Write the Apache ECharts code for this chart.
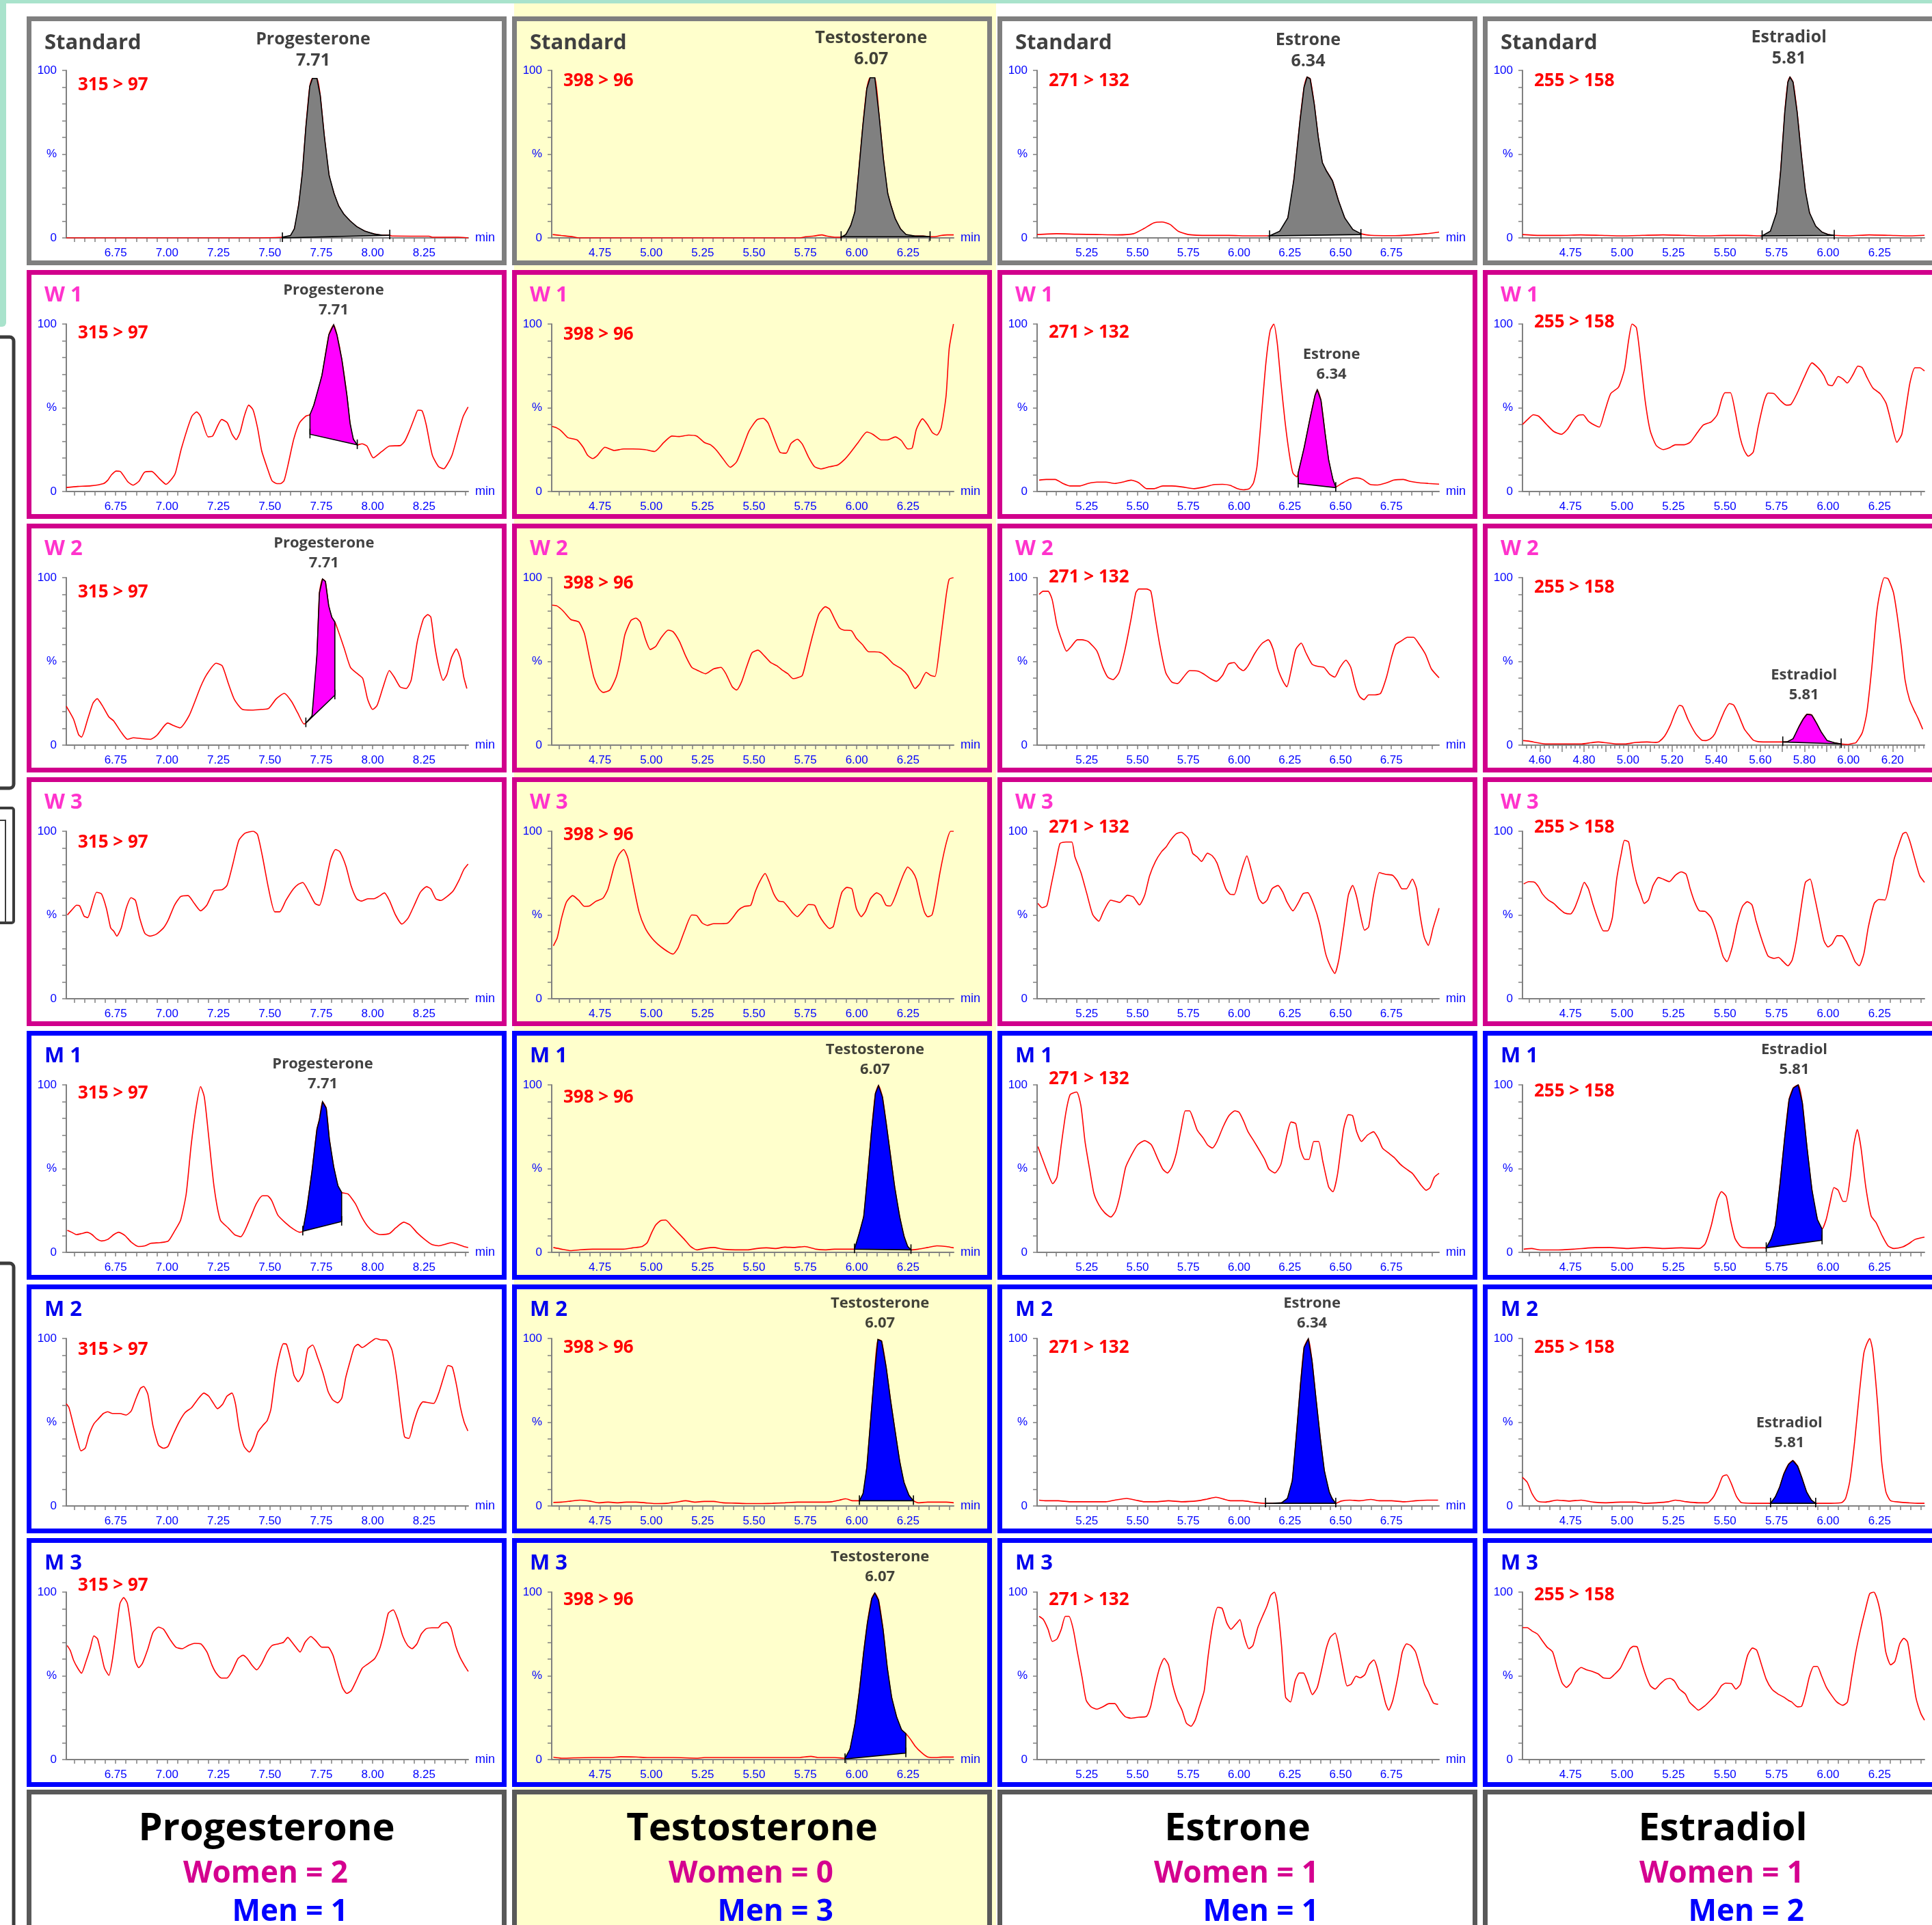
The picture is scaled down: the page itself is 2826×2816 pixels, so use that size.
<!DOCTYPE html>
<html lang="en">
<head>
<meta charset="UTF-8">
<title>Steroid MRM chromatograms</title>
<script src="https://cdn.jsdelivr.net/npm/echarts@6.0.0/dist/echarts.min.js"></script>
<style>
  html, body { margin: 0; padding: 0; background: #fff; overflow: hidden; }
  #main { width: 2826px; height: 2816px; }
</style>
</head>
<body>
<div id="main"></div>
<script>
// ---- data (x = min, y = % of max) ----
const compounds = ['Progesterone', 'Testosterone', 'Estrone', 'Estradiol'];
const retentionTimes = ['7.71', '6.07', '6.34', '5.81'];
const transitions = ['315 > 97', '398 > 96', '271 > 132', '255 > 158'];
const rowLabels = ['Standard', 'W 1', 'W 2', 'W 3', 'M 1', 'M 2', 'M 3'];
const women = [2, 0, 1, 1];
const men = [1, 3, 1, 2];

const xRange = [[6.51, 8.465], [4.515, 6.472], [5.005, 6.985], [4.517, 6.468]];
const xLabels = [
  [6.75, 7.00, 7.25, 7.50, 7.75, 8.00, 8.25],
  [4.75, 5.00, 5.25, 5.50, 5.75, 6.00, 6.25],
  [5.25, 5.50, 5.75, 6.00, 6.25, 6.50, 6.75],
  [4.75, 5.00, 5.25, 5.50, 5.75, 6.00, 6.25]
];
// W 2 estradiol trace was exported with its own time window
const xRangeW2E2 = [4.521, 6.345];
const xLabelsW2E2 = [4.60, 4.80, 5.00, 5.20, 5.40, 5.60, 5.80, 6.00, 6.20];
const yLabels = [0, 50, 100];

const progStd = [[6.51,0],[7.396,0],[7.561,0.4],[7.6,1.4],[7.619,5.4],[7.64,19.7],[7.658,38.8],[7.675,66],[7.694,90.5],[7.707,95.2],[7.729,95.2],[7.745,85],[7.765,60.5],[7.788,37.4],[7.812,26.5],[7.835,19],[7.859,14.3],[7.89,10.2],[7.922,6.8],[7.961,4.1],[8.008,2.3],[8.047,1.6],[8.083,1.6],[8.094,1.1],[8.274,1],[8.29,0.4],[8.415,0.4],[8.465,0]];
const testoStd = [[4.52,2],[4.562,1.4],[4.617,0.7],[4.648,0],[5.72,0],[5.752,0.7],[5.791,1.1],[5.83,1.8],[5.853,1.1],[5.892,0.4],[5.924,0.4],[5.947,2],[5.971,7.5],[5.991,15.6],[6.01,40.1],[6.03,67.3],[6.049,89.1],[6.065,95.6],[6.088,95.6],[6.108,74.1],[6.13,46.9],[6.151,26.5],[6.166,19.7],[6.187,11.6],[6.213,5.4],[6.24,2],[6.284,1.1],[6.323,1.1],[6.357,0.7],[6.378,0.7],[6.409,1.4],[6.44,1.8],[6.472,1.8]];
const estroneStd = [[5.005,2],[5.1,2.5],[5.2,2.2],[5.3,2],[5.4,1.8],[5.48,2.5],[5.53,5.5],[5.58,9],[5.62,9.5],[5.66,8],[5.7,4],[5.75,2],[5.85,1.5],[5.95,1.5],[6.05,1.2],[6.15,1.2],[6.2,4],[6.24,12],[6.27,35],[6.3,70],[6.32,90],[6.335,96],[6.35,95],[6.37,80],[6.39,60],[6.41,45],[6.43,40],[6.46,34],[6.49,22],[6.52,12],[6.56,5],[6.6,2.5],[6.65,1.5],[6.75,1.3],[6.85,1.8],[6.92,2.5],[6.985,3.5]];
const estradiolStd = [[4.517,2],[4.6,1.5],[4.7,1.5],[4.8,1.8],[4.9,1.5],[5.0,1.2],[5.1,1.5],[5.2,1.8],[5.3,1.5],[5.4,1.2],[5.5,1.5],[5.6,1.5],[5.68,1.2],[5.72,4],[5.75,15],[5.77,40],[5.79,75],[5.805,93],[5.815,96],[5.83,93],[5.85,75],[5.87,50],[5.89,28],[5.91,15],[5.94,7],[5.97,3.5],[6.0,2],[6.03,1.5],[6.1,1.2],[6.2,1.8],[6.3,1.5],[6.4,1.2],[6.468,1.5]];

const progW1 = [[6.51,2.4],[6.565,3],[6.63,3.4],[6.69,4.7],[6.712,6.8],[6.73,10],[6.753,12.2],[6.772,12],[6.81,5.7],[6.835,3.8],[6.863,6.1],[6.89,11.5],[6.925,12],[6.964,7.5],[6.995,4.3],[7.018,6.8],[7.04,10.9],[7.07,25.8],[7.12,44.8],[7.144,47.5],[7.163,44.8],[7.2,32.6],[7.222,33.2],[7.266,43],[7.293,41],[7.316,34.2],[7.336,31],[7.355,35.3],[7.375,44.8],[7.397,51.6],[7.418,48.8],[7.44,38],[7.46,24.4],[7.487,14.2],[7.51,6.5],[7.534,4.7],[7.55,4.7],[7.569,6.5],[7.589,16.3],[7.616,31.2],[7.644,41],[7.675,45],[7.695,45.9],[7.714,51.6],[7.753,69.2],[7.787,93.6],[7.81,99.5],[7.826,93.6],[7.85,78.7],[7.875,57],[7.89,40.7],[7.906,31.2],[7.925,27.8],[7.948,28.5],[7.972,27.1],[8.003,20.1],[8.042,23.7],[8.081,27.1],[8.136,27.5],[8.156,30.1],[8.18,36.6],[8.206,44.8],[8.22,48.6],[8.24,48.2],[8.26,40],[8.29,21.7],[8.32,14.9],[8.345,13.6],[8.36,15.6],[8.386,21.7],[8.417,35.3],[8.44,44.8],[8.464,50.5]];
const testoW1 = [[4.517,38.9],[4.539,38],[4.563,36],[4.593,32.2],[4.638,30.8],[4.668,26.4],[4.69,21.6],[4.714,19.7],[4.738,21.6],[4.774,26.4],[4.82,24.5],[4.865,25.4],[4.91,25.4],[4.97,25],[5.016,23.9],[5.061,29.3],[5.1,33.1],[5.137,32.8],[5.182,33.7],[5.221,33.1],[5.258,29.3],[5.288,27.9],[5.318,24.5],[5.348,19.7],[5.384,14.5],[5.415,17.7],[5.445,26.4],[5.475,36],[5.514,42.8],[5.545,43.7],[5.569,40.8],[5.596,32.2],[5.626,23.5],[5.656,22.9],[5.68,28.7],[5.711,31.2],[5.735,28.3],[5.765,20.6],[5.795,14.8],[5.826,13.5],[5.868,14.8],[5.907,15.8],[5.937,18.7],[5.967,22.9],[6.007,29.3],[6.049,35.5],[6.079,34.1],[6.119,30.8],[6.149,30.8],[6.188,32.6],[6.218,30.3],[6.248,25.4],[6.27,26],[6.29,37],[6.32,43.4],[6.345,39.9],[6.369,35.1],[6.39,33.7],[6.411,38],[6.435,57.2],[6.45,85.2],[6.471,100]];
const estroneW1 = [[5.015,6.8],[5.05,7.2],[5.094,7.2],[5.132,4.8],[5.168,3.3],[5.212,3.3],[5.256,4.8],[5.3,5.6],[5.344,5.6],[5.388,4.8],[5.426,5.6],[5.468,6.8],[5.506,5.2],[5.544,1.7],[5.579,1.7],[5.624,3.3],[5.668,3.3],[5.72,2.7],[5.779,1.7],[5.829,2.7],[5.874,4.1],[5.918,4.3],[5.956,3.7],[5.991,1.7],[6.021,1],[6.05,1.7],[6.071,5.2],[6.088,14.9],[6.109,43.9],[6.132,76.8],[6.153,96.1],[6.171,100],[6.188,88.4],[6.206,65.2],[6.226,42],[6.247,22.6],[6.265,11],[6.285,8.7],[6.291,11],[6.321,26.5],[6.35,43.9],[6.374,57.4],[6.385,60.7],[6.403,54.5],[6.424,34.2],[6.441,18.8],[6.462,7.2],[6.476,2.7],[6.506,4.8],[6.544,7.2],[6.579,8.1],[6.609,7.2],[6.644,4.3],[6.682,3.9],[6.726,5.2],[6.762,6.8],[6.809,7.2],[6.844,6],[6.888,5.2],[6.932,4.8],[6.985,4.4]];
const estradiolW1 = [[4.517,40],[4.541,42.9],[4.57,45.8],[4.596,44.9],[4.634,40],[4.669,35.8],[4.706,34.2],[4.735,37.1],[4.765,42.9],[4.788,45.5],[4.811,45.8],[4.837,42],[4.866,39.7],[4.89,38.5],[4.916,47.8],[4.945,58.4],[4.983,62.3],[5.012,72.9],[5.032,90.3],[5.049,100],[5.07,97.7],[5.09,78.7],[5.113,53.6],[5.137,36.2],[5.166,27.5],[5.2,25],[5.23,26.1],[5.259,27.9],[5.302,27.9],[5.331,29.4],[5.36,34.2],[5.395,39.7],[5.433,41.6],[5.462,45.8],[5.485,55.5],[5.5,59],[5.526,59],[5.549,47.8],[5.573,32.3],[5.593,24.6],[5.613,21.1],[5.637,23.6],[5.66,38.1],[5.689,53.6],[5.709,58.8],[5.738,58.4],[5.767,54.5],[5.797,51.6],[5.82,52],[5.849,58.4],[5.884,68.1],[5.922,76.8],[5.956,73.3],[5.98,69.1],[6.0,63.8],[6.02,63.2],[6.049,68.7],[6.073,67.1],[6.093,64.8],[6.122,70],[6.145,74.9],[6.166,73.9],[6.189,68.1],[6.218,61.7],[6.253,58.4],[6.282,52.6],[6.305,42],[6.334,29.4],[6.358,34.2],[6.378,49.7],[6.398,65.2],[6.422,73.9],[6.445,73.9],[6.468,72]];

const progW2 = [[6.51,23.2],[6.545,15.5],[6.57,6.2],[6.584,4.8],[6.614,15.5],[6.64,25.1],[6.66,27.7],[6.687,23.2],[6.717,16.8],[6.74,14.5],[6.777,7.7],[6.807,3.5],[6.837,4.4],[6.876,3.9],[6.92,3.5],[6.95,5.8],[7.003,13.2],[7.033,11.6],[7.063,10.3],[7.108,17.8],[7.163,34.8],[7.193,42.2],[7.238,48.9],[7.268,47.4],[7.298,36.8],[7.328,27.1],[7.367,21.3],[7.41,20.9],[7.458,21.3],[7.494,21.9],[7.53,27.5],[7.57,30.9],[7.605,26.1],[7.635,19.3],[7.666,12.6],[7.675,13.2],[7.705,17.4],[7.729,54],[7.741,90.9],[7.756,99.2],[7.77,97.7],[7.786,83.2],[7.801,76.4],[7.816,73.5],[7.831,68.7],[7.861,58],[7.892,46.4],[7.93,42.2],[7.952,39.7],[7.976,27.1],[8.0,21.3],[8.021,23.6],[8.051,34.8],[8.081,44.5],[8.105,40.6],[8.133,34.8],[8.163,33.8],[8.187,38.7],[8.217,61.9],[8.247,75.4],[8.268,77.9],[8.283,76.4],[8.301,60],[8.322,46.4],[8.343,38.7],[8.361,42.2],[8.383,52.2],[8.407,57.4],[8.428,51.3],[8.443,40.6],[8.458,33.8]];
const testoW2 = [[4.517,83.6],[4.539,83.2],[4.569,80.3],[4.608,75],[4.647,73.5],[4.674,66.7],[4.699,52.2],[4.72,40.6],[4.744,33.8],[4.765,31.5],[4.798,32.9],[4.829,40.6],[4.85,51.3],[4.871,65.8],[4.901,74.5],[4.925,75.8],[4.946,73.5],[4.97,63.8],[4.995,57.1],[5.022,59],[5.046,63.8],[5.082,68.7],[5.106,67.7],[5.137,61.9],[5.167,53.2],[5.197,46.4],[5.227,44.5],[5.264,42.6],[5.303,45.5],[5.339,46.4],[5.363,42.6],[5.394,34.8],[5.415,32.9],[5.439,37.7],[5.463,46.4],[5.49,55.1],[5.52,56.7],[5.551,53.2],[5.581,49.3],[5.611,47.4],[5.641,44.5],[5.665,42.6],[5.69,39.7],[5.711,40.2],[5.735,41.6],[5.756,51.3],[5.786,65.8],[5.816,78.3],[5.847,82.6],[5.868,81.2],[5.892,75.4],[5.916,70],[5.937,68.7],[5.974,68.3],[5.998,63.8],[6.028,60],[6.058,55.7],[6.088,55.7],[6.119,55.1],[6.149,52.2],[6.179,48.4],[6.218,45.5],[6.248,41.6],[6.284,33.8],[6.308,36.8],[6.338,43.5],[6.36,41.6],[6.381,41],[6.405,60],[6.435,89],[6.45,99],[6.471,100]];
const estroneW2 = [[5.015,90],[5.035,91.9],[5.059,91.9],[5.079,87],[5.103,71.6],[5.129,61.9],[5.15,56.1],[5.174,59],[5.203,62.9],[5.226,62.9],[5.256,61.9],[5.3,56.1],[5.329,46.4],[5.353,40.6],[5.379,39.1],[5.409,43.5],[5.438,57.1],[5.468,75.4],[5.491,90.9],[5.506,93.2],[5.544,93.2],[5.565,91.9],[5.585,77.4],[5.609,60],[5.638,43.5],[5.668,37.7],[5.697,36.8],[5.726,40.6],[5.756,44.5],[5.8,44.1],[5.829,42.2],[5.859,39.7],[5.888,38.1],[5.918,41.6],[5.947,48.4],[5.976,49.3],[5.997,46.4],[6.021,44.5],[6.044,47.4],[6.079,55.1],[6.115,60.9],[6.144,62.9],[6.168,57.1],[6.191,45.5],[6.218,37.7],[6.235,34.8],[6.256,44.5],[6.279,57.1],[6.306,60.9],[6.329,55.1],[6.359,48.4],[6.388,47],[6.418,46.4],[6.447,42.2],[6.471,40.6],[6.497,46.4],[6.526,50.7],[6.55,46.4],[6.574,34.8],[6.594,29],[6.615,27.1],[6.638,30],[6.668,30],[6.697,30.9],[6.726,40.6],[6.75,52.2],[6.771,60],[6.8,62.3],[6.829,64.4],[6.859,64.4],[6.888,60],[6.918,54.2],[6.947,45.5],[6.985,40.2]];
const estradiolW2 = [[4.524,2.7],[4.55,2.4],[4.59,1.4],[4.63,0.7],[4.684,0.7],[4.79,0.7],[4.83,1.4],[4.865,1.9],[4.9,1.4],[4.95,0.7],[4.99,0.7],[5.03,1.5],[5.086,1.9],[5.126,1.6],[5.14,2],[5.166,5.4],[5.193,12.2],[5.213,19],[5.233,23.8],[5.247,23.1],[5.273,15],[5.307,6.8],[5.334,3],[5.354,2.7],[5.374,3.8],[5.394,6.8],[5.42,15],[5.44,21.1],[5.46,24.8],[5.48,23.8],[5.5,18.4],[5.528,9.5],[5.548,6.1],[5.568,3],[5.595,2],[5.648,1.9],[5.702,1.9],[5.722,2],[5.749,3.8],[5.775,10.9],[5.795,15.6],[5.812,18.4],[5.833,18],[5.856,12.9],[5.876,7.9],[5.903,2.7],[5.936,1.4],[5.967,0.7],[5.996,0.4],[6.023,1.1],[6.034,1.4],[6.063,7.5],[6.083,19],[6.106,46.3],[6.127,77.6],[6.143,91.2],[6.163,100],[6.18,99.3],[6.204,91.2],[6.221,77.6],[6.24,58.5],[6.257,38.8],[6.277,27.2],[6.297,21.1],[6.315,16.3],[6.337,9.5]];

const progW3 = [[6.515,50],[6.536,52.9],[6.56,55.8],[6.575,55.4],[6.596,49.4],[6.614,48.4],[6.635,55.8],[6.657,63.6],[6.681,62.6],[6.705,53.9],[6.726,42.2],[6.741,40.3],[6.756,37.4],[6.777,42.2],[6.801,53.9],[6.825,60.3],[6.846,58.7],[6.867,48.1],[6.892,39],[6.916,37.4],[6.946,38.4],[6.982,42.2],[7.006,47.1],[7.036,55.8],[7.066,61],[7.102,61.6],[7.133,56.8],[7.163,52.5],[7.193,55.8],[7.229,64.5],[7.268,65.1],[7.292,67.8],[7.319,80],[7.349,94.6],[7.379,98.8],[7.419,100],[7.44,98],[7.464,84.9],[7.494,65.5],[7.524,51.9],[7.548,51.9],[7.578,58.7],[7.614,65.5],[7.639,68.4],[7.66,69.4],[7.69,63.6],[7.72,56.8],[7.741,55.8],[7.765,65.5],[7.795,82.9],[7.819,89.1],[7.84,87.8],[7.87,79.1],[7.895,67.4],[7.922,59.7],[7.946,58.3],[7.976,59.7],[8.006,59.7],[8.036,61.6],[8.057,63.2],[8.081,58.7],[8.111,50],[8.142,44.6],[8.172,48.1],[8.202,55.8],[8.232,63.6],[8.262,66.9],[8.283,65.5],[8.307,59.7],[8.331,58.7],[8.361,61],[8.392,64.5],[8.422,71.3],[8.443,77.1],[8.464,80.4]];
const testoW3 = [[4.523,31.6],[4.542,36.4],[4.563,48.1],[4.587,57.8],[4.617,61.6],[4.647,58.7],[4.674,55.2],[4.699,55.4],[4.729,58.1],[4.765,60.1],[4.789,65.5],[4.819,79.1],[4.841,85.9],[4.865,89.1],[4.886,83.9],[4.91,69.4],[4.94,51.9],[4.97,42.2],[5.001,36.4],[5.031,32.6],[5.061,29.7],[5.091,27.3],[5.106,26.7],[5.131,30.6],[5.161,40.3],[5.197,50],[5.221,49.6],[5.248,45.2],[5.273,43.8],[5.303,44.8],[5.339,44.8],[5.372,45.2],[5.394,48.1],[5.424,52.9],[5.454,55.2],[5.484,55.8],[5.505,63.6],[5.529,70.3],[5.554,74.8],[5.575,69.4],[5.596,62.6],[5.62,58.3],[5.644,57.8],[5.671,53.9],[5.69,51],[5.711,49],[5.735,51.9],[5.765,56.2],[5.795,55.8],[5.816,50],[5.841,45.2],[5.868,41.9],[5.886,43.2],[5.907,53.9],[5.928,63.6],[5.952,66.5],[5.977,65.5],[5.998,53.9],[6.022,49],[6.043,52.3],[6.067,59.7],[6.097,63.2],[6.119,61.6],[6.143,55.8],[6.164,55.4],[6.188,61.2],[6.209,68.4],[6.231,75.2],[6.248,78.7],[6.27,76.2],[6.29,71.3],[6.308,61.6],[6.329,51.9],[6.345,49],[6.366,50],[6.381,57.8],[6.405,75.2],[6.435,92.6],[6.457,100],[6.472,100]];
const estroneW3 = [[5.009,56.9],[5.029,54.4],[5.053,55.6],[5.074,67.6],[5.097,81.1],[5.118,92.7],[5.147,93.6],[5.176,93.6],[5.191,84.9],[5.221,75.3],[5.25,62.7],[5.279,50.2],[5.309,46.3],[5.332,52.1],[5.368,58.9],[5.412,57.5],[5.45,61.8],[5.479,60.8],[5.509,56],[5.535,61.8],[5.559,73.4],[5.588,82],[5.618,87.8],[5.641,90.7],[5.662,94.6],[5.691,98.5],[5.715,99.4],[5.75,95.6],[5.771,86.9],[5.794,84.6],[5.815,82],[5.844,86.9],[5.868,85.3],[5.891,81.1],[5.912,73.4],[5.935,65.6],[5.956,62.4],[5.976,62.2],[6.0,71.4],[6.021,80.1],[6.038,85.3],[6.059,77.2],[6.079,67.6],[6.097,59.8],[6.118,56.9],[6.138,58.9],[6.162,65.6],[6.191,67.6],[6.215,63.7],[6.235,57.9],[6.265,52.5],[6.294,57.9],[6.315,62.7],[6.338,63.3],[6.368,56],[6.397,44.4],[6.426,27],[6.45,19.3],[6.471,15.1],[6.491,23.2],[6.515,42.5],[6.538,61.8],[6.559,67.6],[6.579,60.8],[6.597,50.2],[6.618,40.9],[6.638,42.9],[6.662,61.8],[6.691,75.3],[6.721,74.3],[6.756,73.7],[6.779,70.5],[6.803,65.6],[6.824,65.6],[6.853,71.4],[6.874,65.6],[6.891,50.2],[6.912,36.7],[6.932,31.9],[6.956,42.5],[6.985,54.1]];
const estradiolW3 = [[4.523,68.5],[4.547,69.9],[4.576,69.5],[4.596,66.6],[4.613,62.7],[4.642,58.9],[4.669,56.9],[4.692,54.1],[4.721,51.2],[4.75,50.6],[4.77,54.1],[4.794,61.8],[4.817,69.5],[4.837,65.6],[4.86,56],[4.887,46.3],[4.91,40.5],[4.93,40.5],[4.953,48.3],[4.974,71.4],[4.997,86.9],[5.012,94.6],[5.032,93.6],[5.049,81.1],[5.07,69.5],[5.09,62.7],[5.108,56.9],[5.128,58.9],[5.151,67.6],[5.177,72.4],[5.2,71.4],[5.23,69.9],[5.259,73.7],[5.288,75.7],[5.311,74.3],[5.331,65.6],[5.352,57.9],[5.375,52.5],[5.404,52.1],[5.433,48.3],[5.456,40.5],[5.477,30.9],[5.491,25.1],[5.509,22.2],[5.535,30.9],[5.558,44.4],[5.584,55],[5.608,57.9],[5.631,56],[5.651,46.3],[5.68,34.7],[5.709,25.5],[5.738,24.1],[5.759,24.7],[5.782,22.2],[5.805,19.7],[5.826,23.2],[5.846,34.7],[5.869,54.1],[5.89,69.5],[5.913,71.4],[5.933,61.8],[5.956,48.3],[5.98,34.7],[6.0,30.9],[6.02,32.8],[6.044,37.6],[6.067,37.6],[6.087,34.7],[6.108,29],[6.131,22.2],[6.151,19.7],[6.174,27],[6.195,42.5],[6.224,56.9],[6.247,59.3],[6.276,58.9],[6.299,69.5],[6.32,83],[6.34,90.7],[6.363,98.5],[6.378,99.4],[6.398,93.6],[6.422,83],[6.445,73.4],[6.468,69.5]];

const progM1 = [[6.515,13.2],[6.536,12],[6.56,10.6],[6.584,11.2],[6.611,12],[6.635,10.6],[6.657,8.1],[6.681,6.8],[6.711,7.7],[6.741,10.6],[6.765,12],[6.795,10.1],[6.825,6.2],[6.861,3.5],[6.892,3.9],[6.922,5.4],[6.967,5.8],[7.006,6.8],[7.036,12.6],[7.066,19.3],[7.093,34.8],[7.117,63.8],[7.142,87],[7.163,99],[7.181,92.8],[7.202,69.6],[7.229,38.7],[7.259,19.3],[7.298,14.5],[7.328,10.6],[7.358,9.3],[7.404,20.3],[7.434,29],[7.464,33.8],[7.488,33.8],[7.509,30.9],[7.539,22.2],[7.578,17.4],[7.614,13.9],[7.645,12],[7.66,12.6],[7.681,27.1],[7.705,48.4],[7.729,73.5],[7.741,79.3],[7.756,89.9],[7.774,86.1],[7.789,67.7],[7.81,51.3],[7.831,39.7],[7.849,35.8],[7.88,34.8],[7.916,29],[7.946,21.3],[7.976,15.5],[8.006,12],[8.036,10.6],[8.081,11.2],[8.111,14.5],[8.151,18],[8.181,16.4],[8.217,11.6],[8.253,7.7],[8.286,4.8],[8.322,3.9],[8.352,4.8],[8.383,5.8],[8.413,4.8],[8.443,3.5],[8.464,2.9]];
const testoM1 = [[4.523,2.9],[4.563,1.9],[4.608,1],[4.653,1.5],[4.714,1.9],[4.789,1.9],[4.865,1.9],[4.91,2.7],[4.955,3.5],[4.98,5.8],[5.001,11.6],[5.022,16.4],[5.046,19],[5.07,19.3],[5.1,15.5],[5.131,11.6],[5.161,7.7],[5.191,3.5],[5.221,1.5],[5.258,2.3],[5.303,2.9],[5.348,1.9],[5.409,1.5],[5.469,1.5],[5.514,2.3],[5.56,2.7],[5.605,2.3],[5.65,3.1],[5.696,2.9],[5.747,3.5],[5.801,1.9],[5.847,1.5],[5.892,1.9],[5.937,1.9],[5.989,1.9],[6.013,11.6],[6.034,21.3],[6.052,44.5],[6.073,73.5],[6.091,94.8],[6.106,99.6],[6.125,92.8],[6.143,77.4],[6.164,58],[6.185,38.7],[6.209,21.3],[6.23,9.7],[6.248,3.5],[6.264,1.5],[6.3,1.9],[6.345,2.9],[6.39,3.9],[6.436,3.5],[6.472,2.7]];
const estroneM1 = [[5.009,63.2],[5.029,56.5],[5.059,46.8],[5.082,41],[5.103,44.9],[5.124,64.2],[5.147,83.6],[5.168,94.2],[5.2,95.7],[5.221,87.4],[5.241,66.2],[5.265,48.7],[5.285,35.2],[5.309,28.4],[5.338,23.6],[5.368,21.1],[5.391,24.6],[5.412,33.3],[5.441,50.7],[5.471,58.4],[5.5,64.2],[5.535,66.7],[5.568,64.2],[5.597,56.5],[5.624,49.7],[5.647,47.4],[5.668,50.7],[5.691,59.4],[5.715,73.9],[5.735,84.5],[5.756,84.5],[5.774,79.7],[5.794,72.9],[5.824,68.1],[5.844,64.2],[5.868,62.3],[5.891,66.2],[5.921,74.9],[5.95,81.6],[5.979,84.5],[6.0,83.6],[6.021,78.7],[6.044,72],[6.074,66.2],[6.103,60.3],[6.126,55.5],[6.147,49.7],[6.176,47.4],[6.206,52.6],[6.235,70],[6.256,77.8],[6.279,76.8],[6.3,62.3],[6.324,55.5],[6.344,55.5],[6.368,66.2],[6.391,66.2],[6.412,54.5],[6.441,39.1],[6.462,36.2],[6.485,46.8],[6.515,73.9],[6.538,82.2],[6.559,81.6],[6.579,72],[6.603,66.2],[6.632,70],[6.662,72],[6.685,68.1],[6.706,62.3],[6.735,59.4],[6.765,56.5],[6.794,52.6],[6.824,49.7],[6.853,47.2],[6.874,43.9],[6.897,40],[6.921,37.1],[6.941,38.7],[6.962,44.9],[6.985,47.2]];
const estradiolM1 = [[4.523,1.9],[4.561,2.3],[4.605,1.4],[4.677,1.4],[4.765,1.9],[4.852,2.7],[4.939,2.9],[5.026,2.3],[5.113,2.9],[5.201,2.3],[5.288,2.7],[5.375,2.3],[5.404,5.2],[5.433,15.9],[5.462,31.3],[5.483,36.2],[5.506,33.3],[5.526,19.7],[5.549,8.1],[5.578,3.3],[5.613,2.7],[5.666,2.7],[5.7,2.7],[5.724,8.1],[5.744,15.9],[5.767,41],[5.791,70],[5.811,91.3],[5.831,98.1],[5.855,100],[5.875,89.4],[5.898,62.3],[5.922,37.1],[5.948,19.7],[5.971,13.9],[5.991,19.7],[6.009,29.4],[6.029,38.7],[6.049,37.1],[6.073,30.4],[6.087,30.4],[6.108,44.9],[6.125,64.2],[6.142,73.3],[6.16,62.3],[6.183,39.1],[6.209,21.7],[6.233,17.8],[6.262,10.1],[6.291,3.9],[6.32,2.3],[6.363,3.3],[6.392,5.2],[6.422,7.7],[6.468,9.1]];

const progM2 = [[6.51,61],[6.523,58.7],[6.545,48.1],[6.566,38.4],[6.581,32.9],[6.602,34.5],[6.62,42.2],[6.644,49],[6.665,51.9],[6.69,55.2],[6.711,56.2],[6.735,55.2],[6.771,55.2],[6.801,54.3],[6.826,56.8],[6.847,63.6],[6.871,70.3],[6.886,71.3],[6.907,66.5],[6.931,48.1],[6.958,36.4],[6.983,34.5],[7.004,35.5],[7.028,42.2],[7.058,50],[7.088,55.8],[7.119,58.7],[7.149,63.6],[7.179,67.4],[7.203,65.5],[7.224,61.6],[7.245,58.1],[7.27,60.7],[7.291,65.5],[7.315,67.4],[7.333,60.7],[7.351,46.1],[7.375,35.5],[7.4,32.2],[7.421,36.4],[7.442,44.2],[7.466,48.1],[7.487,51],[7.505,57.8],[7.526,77.1],[7.548,90.7],[7.566,96.9],[7.581,96.5],[7.602,86.8],[7.617,78.1],[7.638,74.2],[7.662,79.1],[7.684,93.6],[7.708,96.1],[7.732,88.8],[7.759,79.1],[7.783,68.4],[7.804,63.6],[7.829,61.6],[7.85,64.5],[7.868,76.2],[7.889,85.9],[7.91,94.6],[7.928,96.5],[7.949,94.6],[7.974,96.5],[7.995,98.4],[8.016,100],[8.04,99.2],[8.07,98.8],[8.094,93],[8.116,77.1],[8.137,55.8],[8.155,41.3],[8.176,40.3],[8.197,49],[8.221,57.8],[8.245,62.2],[8.273,61.6],[8.297,61.2],[8.321,67.4],[8.348,78.1],[8.366,83.9],[8.387,82.9],[8.409,71.3],[8.427,58.7],[8.445,50],[8.463,44.8]];
const testoM2 = [[4.523,2.1],[4.563,2.3],[4.608,2.9],[4.653,3.5],[4.699,2.9],[4.744,1.9],[4.789,2.3],[4.835,1.9],[4.88,2.3],[4.925,2.3],[4.97,1.9],[5.016,1.4],[5.076,1.6],[5.122,2.3],[5.167,3.1],[5.212,2.3],[5.258,2.7],[5.303,2.7],[5.348,1.9],[5.409,1.7],[5.469,1.4],[5.53,1.4],[5.59,1.6],[5.65,1.9],[5.711,2.3],[5.771,2.3],[5.831,2.3],[5.877,2.5],[5.916,3.5],[5.946,4.3],[5.982,3.1],[6.013,3.1],[6.031,7.4],[6.049,22.9],[6.067,50],[6.085,77.1],[6.103,99.4],[6.121,98.4],[6.143,82.9],[6.164,63.6],[6.185,46.1],[6.209,26.7],[6.23,14.1],[6.254,6.4],[6.276,3.1],[6.3,1.9],[6.345,2.3],[6.39,2.3],[6.436,2.3],[6.472,1.9]];
const estroneM2 = [[5.015,3.5],[5.05,3.1],[5.109,3.1],[5.168,2.5],[5.256,2.5],[5.344,2.5],[5.388,3.5],[5.446,4.5],[5.49,3.5],[5.534,2.5],[5.593,2.5],[5.652,3.1],[5.719,2.5],[5.798,3.1],[5.842,4.1],[5.886,5.2],[5.93,3.9],[5.96,3.1],[6.018,3.1],[6.077,2.1],[6.13,1.6],[6.165,1.6],[6.209,1.9],[6.238,4.5],[6.262,15.1],[6.282,42.2],[6.303,73.3],[6.32,94.6],[6.341,99.8],[6.359,86.8],[6.379,63.6],[6.4,40.3],[6.42,20.9],[6.444,8.3],[6.458,4.5],[6.476,1.6],[6.502,2.9],[6.546,3.5],[6.59,3.1],[6.649,3.9],[6.693,3.1],[6.751,3.1],[6.81,2.5],[6.869,3.1],[6.927,3.5],[6.98,3.5]];
const estradiolM2 = [[4.517,17.1],[4.54,14.1],[4.563,7.4],[4.59,2.9],[4.628,2.3],[4.686,3.5],[4.744,2.9],[4.802,3.5],[4.861,2.3],[4.919,1.9],[4.992,2.3],[5.065,2.3],[5.109,1.6],[5.167,1.9],[5.225,2.5],[5.26,3.5],[5.313,2.5],[5.371,1.9],[5.415,1.9],[5.444,5.4],[5.467,11.2],[5.488,17.6],[5.508,18.6],[5.531,13.2],[5.555,5.8],[5.581,1.9],[5.633,1.6],[5.692,1.6],[5.721,1.6],[5.744,5.4],[5.765,11.2],[5.785,19],[5.808,24.8],[5.829,27.1],[5.852,23.8],[5.872,17.1],[5.896,8.3],[5.919,3.5],[5.94,1.6],[5.969,1.6],[6.013,1.6],[6.065,1.9],[6.085,4.5],[6.106,15.1],[6.129,38.4],[6.152,67.4],[6.173,90.7],[6.187,96.5],[6.202,100],[6.217,92.6],[6.24,61.6],[6.26,26.7],[6.281,8.3],[6.304,3.1],[6.348,2.3],[6.391,1.9],[6.435,1.6],[6.468,1.6]];

const progM3 = [[6.514,68.1],[6.529,65.2],[6.545,59.4],[6.566,54.5],[6.584,51.6],[6.605,58.4],[6.626,66.2],[6.644,73.9],[6.662,72],[6.681,62.3],[6.696,54.5],[6.717,50.3],[6.735,60.3],[6.756,79.7],[6.771,93.2],[6.789,96.7],[6.807,93.2],[6.826,77.8],[6.844,59.4],[6.862,54.9],[6.88,57.4],[6.907,66.2],[6.931,75.8],[6.958,79.1],[6.983,77.8],[7.013,72],[7.043,67.1],[7.073,66.2],[7.103,68.1],[7.134,69.4],[7.164,69.1],[7.194,64.2],[7.218,56.5],[7.239,51.6],[7.264,48.7],[7.291,48.7],[7.315,52.6],[7.345,60.3],[7.369,62.3],[7.39,60.3],[7.412,56.5],[7.436,53.6],[7.46,57.4],[7.487,64.2],[7.511,68.1],[7.542,69.1],[7.566,70],[7.587,72.9],[7.608,70],[7.626,67.1],[7.647,64.2],[7.671,70],[7.699,73.5],[7.723,71],[7.753,67.1],[7.783,67.1],[7.807,62.3],[7.829,52.6],[7.853,42.9],[7.874,39.5],[7.895,41],[7.919,46.8],[7.949,54.5],[7.98,57.4],[8.01,60.3],[8.034,66.2],[8.055,75.8],[8.076,87.4],[8.1,89.4],[8.122,83.6],[8.146,73.9],[8.17,68.1],[8.191,66.2],[8.215,69.1],[8.236,74.9],[8.26,78.1],[8.288,78.7],[8.318,78.7],[8.336,81.2],[8.36,82],[8.381,78.7],[8.403,68.1],[8.424,61.3],[8.448,55.9],[8.465,52.6]];
const testoM3 = [[4.523,1.4],[4.563,0.8],[4.623,1],[4.714,1.2],[4.8,1.2],[4.85,1.7],[4.925,1.5],[4.986,1.2],[5.106,1.2],[5.227,0.8],[5.26,1.2],[5.409,1.2],[5.56,1.2],[5.711,1.2],[5.777,1.9],[5.816,1.2],[5.892,1.2],[5.943,0.8],[5.967,6.2],[5.992,21.7],[6.013,41],[6.034,64.2],[6.052,81.6],[6.073,96.1],[6.088,99.4],[6.106,95.2],[6.128,77.8],[6.149,54.5],[6.17,37.1],[6.194,25.5],[6.218,17.8],[6.239,15.5],[6.26,12.4],[6.284,8.1],[6.314,4.3],[6.345,1.5],[6.375,1.2],[6.42,1.5],[6.472,1.5]];
const estroneM3 = [[5.015,85.5],[5.036,83.6],[5.059,77.8],[5.08,70.5],[5.103,72],[5.124,77.8],[5.144,85.5],[5.162,85.5],[5.183,77.8],[5.203,64.3],[5.227,48.8],[5.247,35.3],[5.271,31.5],[5.3,30.1],[5.329,31.5],[5.359,33.4],[5.388,33.4],[5.411,29.5],[5.438,25.7],[5.467,24.7],[5.505,25.3],[5.543,25.7],[5.564,31.5],[5.584,43.1],[5.608,54.6],[5.631,60.4],[5.652,56.6],[5.672,45],[5.696,35.3],[5.719,29.5],[5.74,21.8],[5.763,19.9],[5.784,23.7],[5.804,31.5],[5.828,41.1],[5.848,62.4],[5.872,81.7],[5.895,90.9],[5.916,90.3],[5.939,81.7],[5.96,77.8],[5.983,80.7],[6.004,83.6],[6.024,73.9],[6.048,66.2],[6.068,68.1],[6.092,78.8],[6.115,85.5],[6.136,91.3],[6.156,98.1],[6.174,100],[6.188,93.2],[6.209,68.1],[6.229,37.3],[6.253,34.4],[6.276,46.9],[6.297,51.7],[6.317,51.7],[6.341,45],[6.361,38.8],[6.385,43.1],[6.408,54.6],[6.429,66.2],[6.449,73],[6.473,75.5],[6.493,66.2],[6.511,54.6],[6.532,44],[6.552,45],[6.576,49.8],[6.596,48.8],[6.62,50.8],[6.64,56.6],[6.664,59.5],[6.678,55.6],[6.699,45],[6.722,33.4],[6.737,29.5],[6.757,35.3],[6.781,48.8],[6.804,64.3],[6.825,69.1],[6.845,68.1],[6.869,64.3],[6.892,54.6],[6.913,45],[6.933,40.2],[6.957,33.8],[6.98,33]];
const estradiolM3 = [[4.517,78.8],[4.54,78.8],[4.563,76.8],[4.59,74.9],[4.613,71],[4.636,67.2],[4.663,64.3],[4.686,54.6],[4.709,45.9],[4.73,43.1],[4.753,45.9],[4.773,51.7],[4.802,55],[4.826,53.7],[4.855,52.7],[4.884,51.2],[4.91,48.8],[4.94,48.5],[4.963,50.8],[4.992,54.6],[5.015,60.4],[5.039,66.2],[5.056,67.6],[5.074,67.2],[5.094,58.5],[5.117,49.8],[5.138,44],[5.161,42.1],[5.184,45],[5.211,47.9],[5.234,48.5],[5.254,46.9],[5.278,42.1],[5.307,39.2],[5.327,34.4],[5.351,31.5],[5.371,29.5],[5.4,31.9],[5.429,35.3],[5.458,39.2],[5.482,44],[5.502,45.6],[5.531,45.4],[5.552,42.1],[5.575,45],[5.59,52.7],[5.61,62.4],[5.633,66.6],[5.654,65.3],[5.677,56.6],[5.7,47.9],[5.727,42.1],[5.756,39.2],[5.785,37.3],[5.808,35.3],[5.823,34.4],[5.852,31.5],[5.872,31.9],[5.89,39.2],[5.91,49.8],[5.931,55.6],[5.948,55.6],[5.969,49.8],[5.992,43.1],[6.018,38.2],[6.042,34.4],[6.071,32.4],[6.094,34.4],[6.114,48.8],[6.135,64.3],[6.158,77.8],[6.181,89.4],[6.202,99],[6.222,100],[6.24,95.2],[6.26,83.6],[6.28,64.3],[6.304,56.6],[6.324,58.5],[6.348,69.1],[6.368,72.4],[6.386,70.1],[6.406,54.6],[6.426,37.3],[6.45,27.6],[6.468,23.5]];

const traces = [
  [progStd, testoStd, estroneStd, estradiolStd],
  [progW1, testoW1, estroneW1, estradiolW1],
  [progW2, testoW2, estroneW2, estradiolW2],
  [progW3, testoW3, estroneW3, estradiolW3],
  [progM1, testoM1, estroneM1, estradiolM1],
  [progM2, testoM2, estroneM2, estradiolM2],
  [progM3, testoM3, estroneM3, estradiolM3]
];

// integrated peaks: start/end time and baseline level at both ends
const peaks = [
  { row: 0, col: 0, from: 7.561, to: 8.083, base: [0, 1.6] },
  { row: 0, col: 1, from: 5.924, to: 6.357, base: [0.7, 0.7] },
  { row: 0, col: 2, from: 6.15, to: 6.6, base: [1.2, 2] },
  { row: 0, col: 3, from: 5.68, to: 6.03, base: [1.2, 1.5] },
  { row: 1, col: 0, from: 7.695, to: 7.925, base: [34.2, 27.8] },
  { row: 1, col: 2, from: 6.291, to: 6.476, base: [4.8, 2.3] },
  { row: 2, col: 0, from: 7.675, to: 7.816, base: [13.2, 29.8] },
  { row: 2, col: 3, from: 5.702, to: 5.967, base: [1.9, 0.7] },
  { row: 4, col: 0, from: 7.66, to: 7.849, base: [12.6, 18.4] },
  { row: 4, col: 1, from: 5.989, to: 6.264, base: [1.9, 1.5] },
  { row: 4, col: 3, from: 5.7, to: 5.971, base: [2.7, 7.2] },
  { row: 5, col: 1, from: 6.013, to: 6.276, base: [3.1, 3.1] },
  { row: 5, col: 2, from: 6.13, to: 6.476, base: [1.6, 1.6] },
  { row: 5, col: 3, from: 5.721, to: 5.94, base: [1.6, 1.6] },
  { row: 6, col: 1, from: 5.943, to: 6.239, base: [0.4, 3.9] }
];

// where the name / RT annotation sits (data units, middle of the two lines)
const labelSpots = [
  { row: 0, col: 0, x: 7.71, y: 112.2 }, { row: 0, col: 1, x: 6.07, y: 112.9 },
  { row: 0, col: 2, x: 6.34, y: 111.8 }, { row: 0, col: 3, x: 5.81, y: 113.5 },
  { row: 1, col: 0, x: 7.81, y: 114 }, { row: 1, col: 2, x: 6.455, y: 75.7 },
  { row: 2, col: 0, x: 7.763, y: 114.5 }, { row: 2, col: 3, x: 5.798, y: 35.9 },
  { row: 4, col: 0, x: 7.757, y: 106.3 }, { row: 4, col: 1, x: 6.089, y: 115.2 },
  { row: 4, col: 3, x: 5.836, y: 115.2 }, { row: 5, col: 1, x: 6.113, y: 114.9 },
  { row: 5, col: 2, x: 6.359, y: 114.9 }, { row: 5, col: 3, x: 5.812, y: 43.7 },
  { row: 6, col: 1, x: 6.113, y: 114.9 }
];

// ---- layout ----
const COL_X0 = 39, COL_STEP = 710, ROW_Y0 = 24, ROW_STEP = 371;
const transY = [
  [101, 95, 95, 95], [93, 95, 92, 77], [101, 88, 79, 94], [96, 85, 74, 74],
  [92, 98, 71, 89], [96, 93, 93, 93], [70, 91, 91, 84]
];
const FONT = '"Open Sans", "DejaVu Sans", sans-serif';
const AXFONT = '"Liberation Sans", Arial, sans-serif';
const AX_BLUE = '#0000ff';
const AX_GREY = '#808080';
const YELLOW = '#ffffcc';

function kind(r) { return r === 0 ? 'std' : (r <= 3 ? 'w' : 'm'); }
const borderColor = { std: '#7f7f7f', w: '#d1008c', m: '#0000ff' };
const labelColor = { std: '#404040', w: '#ff33cc', m: '#0000ee' };
const peakFill = { std: '#808080', w: '#ff00ff', m: '#0000ff' };

function ticks(min, max, step) {
  const out = [];
  for (let v = Math.ceil(min / step - 1e-6) * step; v <= max + 1e-9; v += step) out.push(+v.toFixed(3));
  return out;
}

const grids = [], xAxes = [], yAxes = [], series = [], graphics = [];

// page background pieces
graphics.push({ type: 'rect', z: 0, shape: { x: 752, y: 0, width: 705, height: 2816 }, style: { fill: YELLOW } });
graphics.push({ type: 'rect', z: 0, shape: { x: 0, y: 0, width: 2826, height: 5 }, style: { fill: '#a9e3cc' } });
graphics.push({ type: 'rect', z: 0, shape: { x: 0, y: 0, width: 9, height: 478, r: [0, 0, 6, 0] }, style: { fill: '#a9e3cc' } });
graphics.push({ type: 'rect', z: 0, shape: { x: -30, y: 493, width: 50, height: 660, r: 6 }, style: { fill: 'none', stroke: '#3c3c3c', lineWidth: 5 } });
graphics.push({ type: 'rect', z: 0, shape: { x: -30, y: 1182, width: 50, height: 168, r: 3 }, style: { fill: 'none', stroke: '#3c3c3c', lineWidth: 4 } });
graphics.push({ type: 'rect', z: 0, shape: { x: -30, y: 1200, width: 38, height: 150 }, style: { fill: 'none', stroke: '#3c3c3c', lineWidth: 2 } });
graphics.push({ type: 'rect', z: 0, shape: { x: -30, y: 1848, width: 50, height: 1200, r: 6 }, style: { fill: 'none', stroke: '#3c3c3c', lineWidth: 5 } });

for (let r = 0; r < 7; r++) {
  for (let c = 0; c < 4; c++) {
    const idx = r * 4 + c;
    const L = COL_X0 + COL_STEP * c, T = ROW_Y0 + ROW_STEP * r;
    const k = kind(r);
    const special = (r === 2 && c === 3);
    const range = special ? xRangeW2E2 : xRange[c];

    graphics.push({ type: 'rect', z: 1, shape: { x: L + 3.5, y: T + 3.5, width: 695, height: 357 },
      style: { fill: c === 1 ? YELLOW : '#ffffff', stroke: borderColor[k], lineWidth: 7 } });
    graphics.push({ type: 'text', z: 10, x: L + 26, y: T + (r === 0 ? 39 : 37),
      style: { text: rowLabels[r], fill: labelColor[k], fontSize: 31, fontWeight: 'bold', fontFamily: FONT,
        align: 'left', textAlign: 'left', verticalAlign: 'middle', textVerticalAlign: 'middle' } });
    graphics.push({ type: 'text', z: 10, x: L + 75, y: T + transY[r][c],
      style: { text: transitions[c], fill: '#ff0000', fontSize: 26, fontWeight: 'bold', fontFamily: FONT,
        align: 'left', textAlign: 'left', verticalAlign: 'middle', textVerticalAlign: 'middle' } });

    grids.push({ left: L + 58, top: T + 79, width: 588, height: 245, containLabel: false, outerBoundsMode: 'none' });
    xAxes.push({
      gridIndex: idx, type: 'value', position: 'bottom', min: range[0], max: range[1], z: 5,
      axisLine: { show: true, onZero: false, lineStyle: { color: AX_GREY, width: 2 } },
      axisTick: { show: true, length: special ? 5 : 6, customValues: ticks(range[0], range[1], special ? 0.02 : 0.05),
        lineStyle: { color: AX_GREY, width: 1.5 } },
      axisLabel: { show: true, customValues: special ? xLabelsW2E2 : xLabels[c], formatter: v => v.toFixed(2),
        color: AX_BLUE, fontSize: 17, fontFamily: AXFONT, margin: 14 },
      splitLine: { show: false },
      name: 'min', nameLocation: 'end', nameGap: 10,
      nameTextStyle: { color: AX_BLUE, fontSize: 18, fontFamily: AXFONT, padding: [18, 0, 0, 0] }
    });
    yAxes.push({
      gridIndex: idx, type: 'value', min: 0, max: 100, z: 5,
      axisLine: { show: true, lineStyle: { color: AX_GREY, width: 2 } },
      axisTick: { show: true, length: 6, customValues: ticks(0, 100, 10), lineStyle: { color: AX_GREY, width: 1.5 } },
      axisLabel: { customValues: yLabels, formatter: v => (v === 50 ? '%' : String(v)),
        color: AX_BLUE, fontSize: 17, fontFamily: AXFONT, margin: 14 },
      splitLine: { show: false }
    });
    series.push({
      type: 'line', xAxisIndex: idx, yAxisIndex: idx, data: traces[r][c],
      symbol: 'none', showSymbol: false, smooth: 0.2, silent: true, z: 6,
      lineStyle: { color: '#ff0000', width: 1.6 }
    });
  }
}

// longer ticks every 0.1 on the W 2 estradiol axis
xAxes.push({
  gridIndex: 11, type: 'value', position: 'bottom', min: xRangeW2E2[0], max: xRangeW2E2[1], z: 5,
  axisLine: { show: false, onZero: false }, axisLabel: { show: false }, splitLine: { show: false },
  axisTick: { show: true, length: 10, customValues: ticks(xRangeW2E2[0], xRangeW2E2[1], 0.1), lineStyle: { color: AX_GREY, width: 1.5 } }
});

// filled, integrated peaks
peaks.forEach(pk => {
  const idx = pk.row * 4 + pk.col;
  const tr = traces[pk.row][pk.col];
  const poly = [[pk.from, pk.base[0]]]
    .concat(tr.filter(p => p[0] >= pk.from - 1e-9 && p[0] <= pk.to + 1e-9))
    .concat([[pk.to, pk.base[1]]]);
  const fill = peakFill[kind(pk.row)];
  series.push({
    type: 'custom', xAxisIndex: idx, yAxisIndex: idx, data: poly, encode: { x: 0, y: 1 },
    silent: true, z: 7, clip: false,
    renderItem: (params, api) => {
      if (params.dataIndex !== 0) return null;
      const pts = poly.map(p => api.coord(p));
      const a = pts[0], b = pts[pts.length - 1];
      return {
        type: 'group', children: [
          { type: 'polygon', shape: { points: pts }, style: { fill: fill, stroke: '#000', lineWidth: 1.6 } },
          { type: 'line', shape: { x1: a[0], y1: a[1] - 8, x2: a[0], y2: a[1] + 6 }, style: { stroke: '#000', lineWidth: 1.6 } },
          { type: 'line', shape: { x1: b[0], y1: b[1] - 8, x2: b[0], y2: b[1] + 6 }, style: { stroke: '#000', lineWidth: 1.6 } }
        ]
      };
    }
  });
});

// compound name + retention time over each peak
labelSpots.forEach(s => {
  const idx = s.row * 4 + s.col;
  const big = s.row === 0;
  series.push({
    type: 'scatter', xAxisIndex: idx, yAxisIndex: idx, data: [[s.x, s.y]], symbolSize: 1,
    itemStyle: { color: 'rgba(0,0,0,0)' }, clip: false, silent: true, z: 9,
    label: {
      show: true, position: 'inside', formatter: compounds[s.col] + '\n' + retentionTimes[s.col],
      color: '#111', fontFamily: FONT, fontWeight: 'bold', fontSize: big ? 25 : 22, lineHeight: big ? 31 : 29, align: 'center'
    }
  });
});

// summary boxes along the bottom
for (let c = 0; c < 4; c++) {
  const L = COL_X0 + COL_STEP * c, T = ROW_Y0 + ROW_STEP * 7;
  graphics.push({ type: 'rect', z: 1, shape: { x: L + 3.5, y: T + 0.5, width: 695, height: 300 },
    style: { fill: c === 1 ? YELLOW : '#ffffff', stroke: '#595959', lineWidth: 7 } });
  graphics.push({ type: 'text', z: 10, x: L + 351, y: 2676,
    style: { text: compounds[c], fill: '#000', fontSize: 56, fontWeight: 'bold', fontFamily: FONT,
      align: 'center', textAlign: 'center', verticalAlign: 'middle', textVerticalAlign: 'middle' } });
  graphics.push({ type: 'text', z: 10, x: L + 470, y: 2741,
    style: { text: 'Women = ' + women[c], fill: '#d4008f', fontSize: 44, fontWeight: 'bold', fontFamily: FONT,
      align: 'right', textAlign: 'right', verticalAlign: 'middle', textVerticalAlign: 'middle' } });
  graphics.push({ type: 'text', z: 10, x: L + 470, y: 2797,
    style: { text: 'Men = ' + men[c], fill: '#0000ff', fontSize: 44, fontWeight: 'bold', fontFamily: FONT,
      align: 'right', textAlign: 'right', verticalAlign: 'middle', textVerticalAlign: 'middle' } });
}

const chart = echarts.init(document.getElementById('main'), null, { renderer: 'canvas', width: 2826, height: 2816 });
chart.setOption({
  animation: false,
  backgroundColor: '#ffffff',
  grid: grids,
  xAxis: xAxes,
  yAxis: yAxes,
  series: series,
  graphic: { elements: graphics }
});
</script>
</body>
</html>
